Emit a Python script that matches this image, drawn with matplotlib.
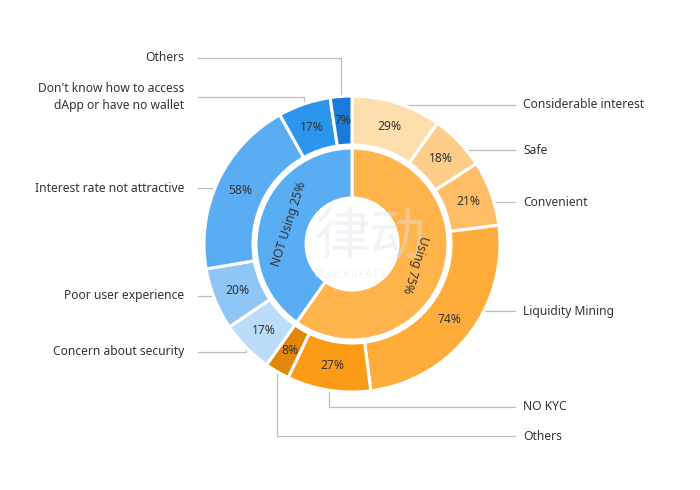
import numpy as np
import matplotlib
matplotlib.use("Agg")
import matplotlib.pyplot as plt

# ---- data ----
inner_labels = ["Using 75%", "NOT Using 25%"]
using_reasons = ["Considerable interest", "Safe", "Convenient", "Liquidity Mining", "NO KYC", "Others"]
using_values = [29, 18, 21, 74, 27, 8]
notusing_reasons = ["Concern about security", "Poor user experience", "Interest rate not attractive",
                    "Don't know how to access\ndApp or have no wallet", "Others"]
notusing_values = [17, 20, 58, 17, 7]

using_colors = ["#FFDEAD", "#FFCD8A", "#FFBE66", "#FFAD3A", "#FB9B16", "#E3870B"]
notusing_colors = ["#BBDDF9", "#8EC6F5", "#5AADF2", "#2C95EC", "#1A7BD8"]
inner_colors = ["#FFB54C", "#58ADF3"]

# label vertical positions (screen px) for outer labels
label_y = [105, 150, 202, 311, 407, 436, 352, 296, 188, 97, 58]

plt.rcParams['font.family'] = ['Noto Sans', 'DejaVu Sans']
W, H = 700, 490
fig = plt.figure(figsize=(7, 4.9), dpi=100)
ax = fig.add_axes([0, 0, 1, 1])
ax.set_xlim(0, W)
ax.set_ylim(0, H)
ax.set_aspect('equal')
ax.axis('off')

cx, cy = 352, H - 244
R_out, w_out = 148, 49
R_in, w_in = 96, 50

outer_vals = using_values + notusing_values
outer_cols = using_colors + notusing_colors
outer_names = using_reasons + notusing_reasons
inner_vals = [sum(using_values), sum(notusing_values)]

ow, _ = ax.pie(outer_vals, colors=outer_cols, radius=R_out, center=(cx, cy), startangle=90,
               counterclock=False, wedgeprops=dict(width=w_out, edgecolor='white', linewidth=2.2))
iw, _ = ax.pie(inner_vals, colors=inner_colors, radius=R_in, center=(cx, cy), startangle=90,
               counterclock=False, wedgeprops=dict(width=w_in, edgecolor='white', linewidth=2.2))
for w in ow + iw:
    w.set_zorder(2)
ax.set_xlim(0, W)
ax.set_ylim(0, H)

tc = '#333333'
fs = 8.7
line_c = '#BDBDBD'

n_using = len(using_values)
for i, w in enumerate(ow):
    mid = np.deg2rad((w.theta1 + w.theta2) / 2)
    r = R_out - w_out / 2
    ax.text(cx + r * np.cos(mid), cy + r * np.sin(mid), f"{outer_vals[i]}%", ha='center', va='center',
            fontsize=fs, color=tc, zorder=4)
    axp = cx + R_out * np.cos(mid)
    ayp = cy + R_out * np.sin(mid)
    ly = H - label_y[i]
    right = i < n_using
    if right:
        x_end = 515
        ax.text(523, ly, outer_names[i], ha='left', va='center', fontsize=fs, color=tc, zorder=4)
    else:
        x_end = 198
        ax.text(184, ly, outer_names[i], ha='right', va='center', fontsize=fs, color=tc, zorder=4,
                linespacing=1.45, multialignment='right')
    ax.plot([x_end, axp, axp], [ly, ly, ayp], color=line_c, lw=0.9, zorder=1, solid_joinstyle='miter')

# inner labels
for i, w in enumerate(iw):
    midd = (w.theta1 + w.theta2) / 2
    mid = np.deg2rad(midd)
    r = 66
    ax.text(cx + r * np.cos(mid), cy + r * np.sin(mid), inner_labels[i], ha='center', va='center',
            rotation=midd - 90, rotation_mode='anchor', fontsize=fs, color=tc, zorder=4)

# watermark
ax.text(370, H - 238, "律动", fontsize=40, family=['Noto Sans CJK SC', 'DejaVu Sans'], ha='center', va='center',
        color='#DCE2EA', alpha=0.4, zorder=3)
ax.text(350, H - 274, "BLOCKBEATS", fontsize=8.5, ha='center', va='center', color='#DCE2EA', alpha=0.4, zorder=3)

fig.savefig("out.png", dpi=100, facecolor='white')
